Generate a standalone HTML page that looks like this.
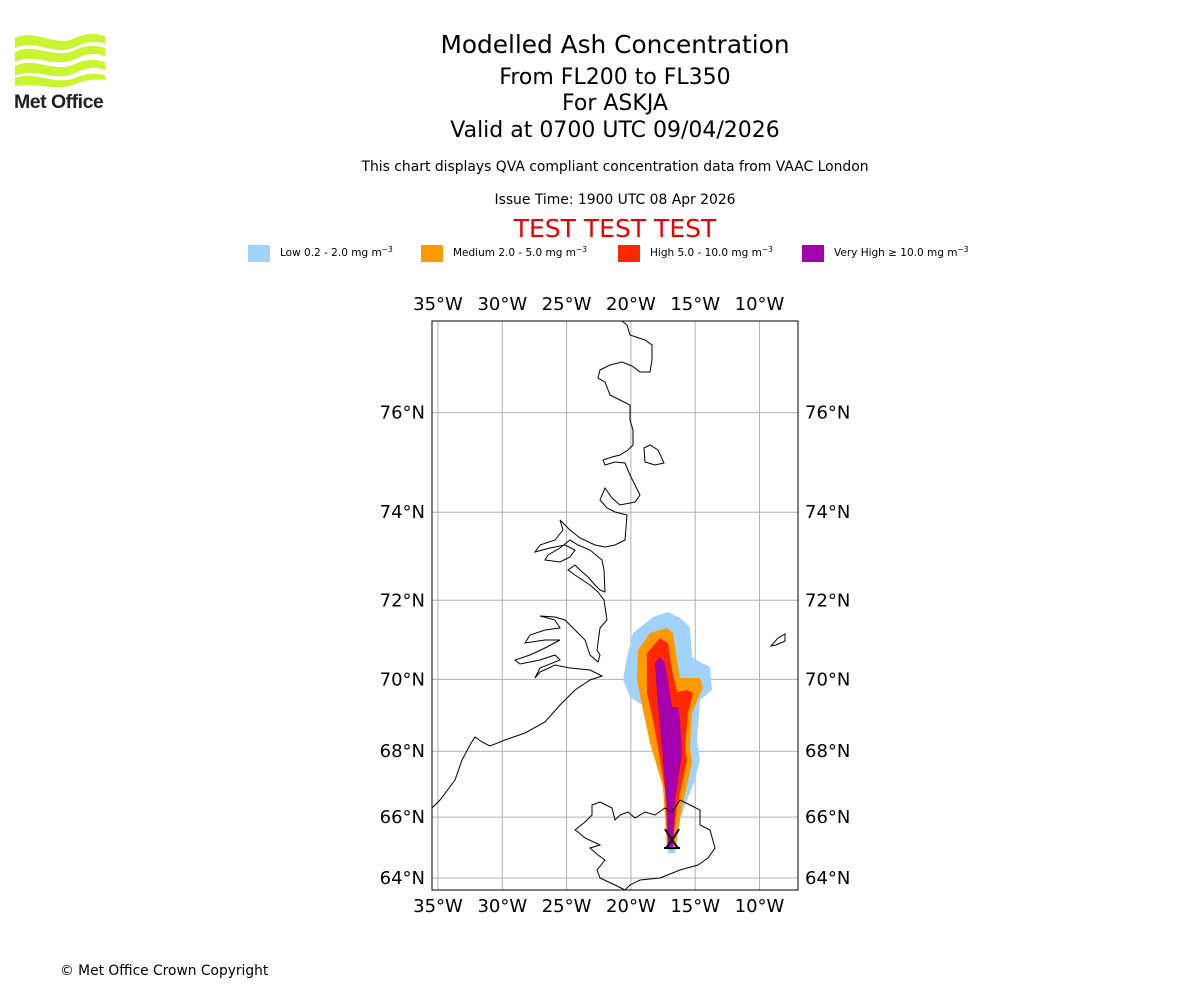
<!DOCTYPE html>
<html><head><meta charset="utf-8">
<style>
body{margin:0;background:#fff;font-family:"DejaVu Sans","Liberation Sans",sans-serif;}
#wrap{position:relative;width:1200px;height:1000px;overflow:hidden;}
</style></head>
<body>
<div id="wrap">
<svg width="1200" height="1000" xmlns="http://www.w3.org/2000/svg" font-family="DejaVu Sans, Liberation Sans, sans-serif">
  <g>
    <path d="M15,38 C35,28 55,48 75,38 C88,32 98,34 105,36 L105,44 C95,40 85,42 75,47 C55,57 35,38 15,48 Z" fill="#c8f52d"/>
    <path d="M15,52 C35,42 55,60 75,50 C88,44 98,46 105,48 L105,56 C95,52 85,54 75,59 C55,69 35,52 15,62 Z" fill="#c8f52d"/>
    <path d="M15,66 C35,56 55,74 75,64 C88,58 98,60 105,62 L105,70 C95,66 85,68 75,73 C55,83 35,66 15,76 Z" fill="#c8f52d"/>
    <path d="M15,78 C35,70 55,86 75,78 C88,72 98,74 105,75 L105,80 C90,78 80,82 70,86 C50,90 35,82 15,86 Z" fill="#c8f52d"/>
    <text x="14" y="108" font-size="19.5" font-weight="bold" fill="#231f20" font-family="Liberation Sans, sans-serif" letter-spacing="-0.5">Met Office</text>
  </g>
  <g text-anchor="middle" fill="#000">
    <text x="615" y="53" font-size="24.8">Modelled Ash Concentration</text>
    <text x="615" y="84" font-size="22">From FL200 to FL350</text>
    <text x="615" y="110" font-size="22">For ASKJA</text>
    <text x="615" y="137" font-size="22">Valid at 0700 UTC 09/04/2026</text>
    <text x="615" y="171" font-size="13.9">This chart displays QVA compliant concentration data from VAAC London</text>
    <text x="615" y="204" font-size="13.9">Issue Time: 1900 UTC 08 Apr 2026</text>
    <text x="615" y="237" font-size="25" fill="#e00">TEST TEST TEST</text>
  </g>
  <g font-size="10.5" fill="#000">
    <g><rect x="248" y="245" width="22" height="17" fill="#a0d2fa"/><text x="280" y="256">Low 0.2 - 2.0 mg m<tspan dy="-4" font-size="7.5">−3</tspan></text></g>
    <g><rect x="421" y="245" width="22" height="17" fill="#ff9900"/><text x="453" y="256">Medium 2.0 - 5.0 mg m<tspan dy="-4" font-size="7.5">−3</tspan></text></g>
    <g><rect x="618" y="245" width="22" height="17" fill="#ff2800"/><text x="650" y="256">High 5.0 - 10.0 mg m<tspan dy="-4" font-size="7.5">−3</tspan></text></g>
    <g><rect x="802" y="245" width="22" height="17" fill="#a500af"/><text x="834" y="256">Very High  ≥  10.0 mg m<tspan dy="-4" font-size="7.5">−3</tspan></text></g>
  </g>
  <defs><clipPath id="mapclip"><rect x="432" y="321" width="366" height="569"/></clipPath></defs>
  <g id="map" clip-path="url(#mapclip)"></g>
  <rect x="432" y="321" width="366" height="569" fill="none" stroke="#000" stroke-width="1"/>
  <g id="labels" font-size="18" fill="#000"></g>
  <text x="60" y="975" font-size="13.8">© Met Office Crown Copyright</text>
</svg>
</div>
<script>
const lonTicks=[-35,-30,-25,-20,-15,-10];
const lonLabels=["35°W","30°W","25°W","20°W","15°W","10°W"];
const latTicks=[64,66,68,70,72,74,76];
const latLabels=["64°N","66°N","68°N","70°N","72°N","74°N","76°N"];
const NS="http://www.w3.org/2000/svg";
function merc(l){return Math.log(Math.tan(Math.PI/4+l*Math.PI/360));}
function px(lon){return 438+(lon+35)*12.86;}
function py(lat){return 878-(merc(lat)-merc(64))*737;}
const map=document.getElementById('map'),lab=document.getElementById('labels');
function mk(tag,attrs,parent){const e=document.createElementNS(NS,tag);for(const k in attrs)e.setAttribute(k,attrs[k]);parent.appendChild(e);return e;}
const lowC=[[668,612],[680,618],[690,627],[692,657],[700,662],[710,667],[712,690],[700,700],[697,740],[700,760],[695,780],[687,800],[680,820],[675,853],[668,853],[665,813],[662,777],[653,740],[650,710],[630,697],[623,680],[627,657],[633,633],[653,617]];
const medC=[[667,628],[673,633],[677,660],[680,678],[700,678],[703,687],[692,713],[690,747],[692,763],[682,807],[675,850],[667,847],[663,787],[650,743],[643,710],[637,680],[638,650],[650,633]];
const highC=[[660,638],[668,643],[672,670],[677,692],[687,690],[693,693],[688,713],[685,747],[687,760],[677,807],[672,850],[668,847],[665,790],[658,747],[653,720],[647,693],[647,653]];
const vhC=[[660,657],[665,663],[672,707],[678,707],[680,720],[682,753],[680,767],[675,800],[673,848],[668,848],[667,807],[663,760],[660,727],[657,693],[655,663]];
const greenland=[[432,808],[440,800],[455,780],[462,760],[470,745],[475,737],[482,742],[490,746],[505,740],[525,733],[545,722],[560,705],[575,690],[590,680],[602,676],[590,670],[570,668],[555,665],[540,672],[535,678],[540,668],[560,660],[555,655],[540,660],[520,664],[515,660],[530,655],[545,648],[560,640],[545,640],[525,643],[530,635],[545,630],[560,628],[555,620],[540,616],[555,617],[565,620],[575,630],[585,640],[590,655],[598,662],[600,655],[597,650],[600,628],[607,620],[604,600],[598,592],[590,585],[575,575],[568,570],[575,565],[580,570],[588,577],[595,585],[600,590],[605,592],[604,570],[602,560],[590,550],[578,545],[570,540],[560,548],[548,555],[545,560],[560,562],[570,557],[575,550],[565,545],[550,548],[535,552],[540,545],[555,540],[563,530],[560,520],[570,530],[580,538],[595,545],[605,547],[615,545],[625,540],[627,515],[615,512],[607,508],[600,500],[605,488],[612,498],[620,505],[635,502],[640,495],[635,485],[630,475],[625,463],[615,462],[605,465],[603,460],[612,457],[620,455],[628,450],[633,445],[633,430],[630,420],[630,405],[620,400],[610,395],[605,382],[598,378],[600,370],[610,365],[622,362],[632,366],[640,372],[650,372],[652,360],[652,345],[645,340],[630,335],[627,325],[622,321]];
const iceland=[[575,830],[585,822],[592,815],[592,805],[600,802],[612,808],[615,820],[620,815],[628,812],[635,818],[645,812],[655,815],[665,808],[672,812],[680,800],[690,805],[700,810],[700,825],[710,830],[715,848],[708,858],[698,865],[680,870],[660,878],[640,880],[630,885],[625,890],[615,885],[600,878],[597,870],[605,860],[598,855],[590,848],[600,845],[585,838],[578,832]];
const pts=a=>a.map(p=>p.join(',')).join(' ');
lonTicks.forEach((lon,i)=>{
  const g=mk('line',{x1:px(lon),x2:px(lon),y1:321,y2:890,stroke:'#b0b0b0','stroke-width':1},map);
  
  
  const t1=mk('text',{x:px(lon),y:310,'text-anchor':'middle'},lab);t1.textContent=lonLabels[i];
  
  
  const t2=mk('text',{x:px(lon),y:912,'text-anchor':'middle'},lab);t2.textContent=lonLabels[i];
  
  
});
latTicks.forEach((lat,i)=>{
  const y=py(lat);
  const g=mk('line',{x1:432,x2:798,y1:y,y2:y,stroke:'#b0b0b0','stroke-width':1},map);
  
  
  const t1=mk('text',{x:425,y:y+6,'text-anchor':'end'},lab);t1.textContent=latLabels[i];
  
  
  const t2=mk('text',{x:805,y:y+6,'text-anchor':'start'},lab);t2.textContent=latLabels[i];
  
  
});
[[lowC,'#a0d2fa','plume-low'],[medC,'#ff9900','plume-medium'],[highC,'#ff2800','plume-high'],[vhC,'#a500af','plume-very-high']].forEach(c=>{
  const p=mk('polygon',{points:pts(c[0]),fill:c[1]},map);
  
  
});
const gl=mk('polyline',{points:pts(greenland),fill:'none',stroke:'#000','stroke-width':1},map);


const ic=mk('polygon',{points:pts(iceland),fill:'none',stroke:'#000','stroke-width':1},map);


const isl=mk('polygon',{points:'644,448 650,445 658,450 664,463 655,465 645,462',fill:'none',stroke:'#000'},map);


const jm=mk('polygon',{points:'771,646 778,638 785,634 785,641 776,645',fill:'none',stroke:'#000'},map);


const v=mk('path',{d:'M665,829 L672,840 L679,829 M672,840 L666,848 L678,848 Z M664,848 L680,848',fill:'none',stroke:'#000','stroke-width':2},map);


</script>
</body></html>
